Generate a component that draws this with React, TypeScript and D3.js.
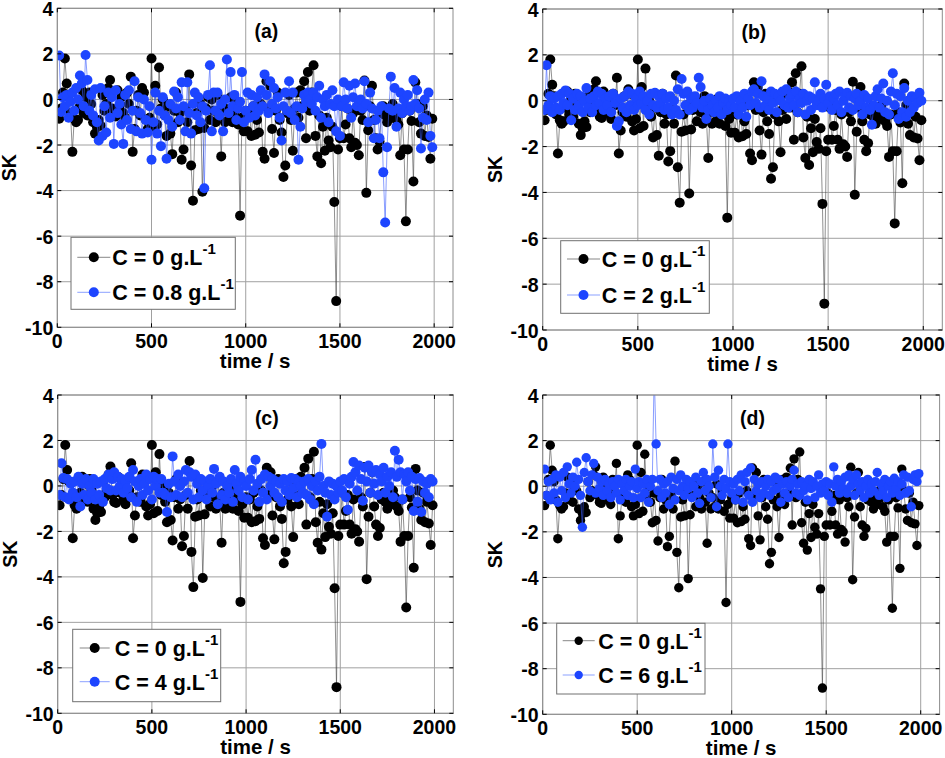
import React from "react";
import * as d3 from "d3";

// sample times (s)
const times: number[] = d3.range(10, 2000, 10);

const xTicks = [0, 500, 1000, 1500, 2000];
const yTicks = [-10, -8, -6, -4, -2, 0, 2, 4];

// C = 0 g/L (reference series, shown in every panel)
const sk0 = [
  -0.85, -0.4, 0.3, 1.8, 0.7, 0.2, -0.6, -2.3, -0.85, -1.0,
  -0.9, -0.3, 0.4, -0.6, 0.1, -0.7, 0.3, -0.2, -1.0, -1.5,
  -1.2, -0.9, -1.15, 0.2, -0.5, -0.2, 0.5, 0.85, -0.4, -0.7,
  -0.75, 0.4, -0.3, 0.1, -0.6, -0.8, 0.3, -0.2, 1.0, -2.3,
  -1.3, -0.5, 0.2, -0.7, 0.5, 0.3, -0.9, -1.3, -0.8, 1.8,
  -1.2, 0.6, -1.1, 1.4, -0.4, 0.0, -0.7, -1.6, -0.3, -1.5,
  -2.4, -0.5, 0.3, -1.0, -0.6, -2.65, -2.2, -0.4, -1.0, 1.1,
  -2.9, -4.45, -1.35, -0.6, -1.3, -0.2, -4.05, -1.25, -0.4, 0.1,
  -0.9, 0.0, -0.5, -1.0, 0.2, -0.7, -2.5, -0.3, -1.0, -0.5,
  -0.9, 0.1, -1.0, -0.6, -0.2, -1.1, -5.1, -0.8, -1.4, -0.5,
  -1.4, -0.6, -1.6, -0.3, -1.55, -0.9, -1.45, -0.2, -2.3, -2.6,
  0.8, -0.4, 0.6, -1.3, -2.35, -0.5, 0.3, -0.9, -1.45, -3.4,
  -2.9, -0.6, 0.2, -0.9, -2.25, -0.4, 0.3, -0.8, 0.4, -0.3,
  0.8, -1.7, 1.2, -0.5, 0.3, 1.5, -1.6, -2.5, -0.7, -2.8,
  -1.2, -2.25, -0.8, -1.8, -2.1, -1.2, -4.5, -8.85, -2.2, -1.7,
  -0.3, -1.7, -1.1, -0.4, -1.7, -2.1, -0.6, -1.9, -2.0, -2.45,
  -0.5, -0.9, 0.83, -4.1, -1.35, -0.3, 0.6, -0.9, -1.7, -2.2,
  -1.85, -0.6, -0.3, -0.7, -1.0, -0.4, -0.8, -0.2, -0.5, -0.9,
  -1.1, -2.45, -0.6, -2.2, -5.35, -2.2, -0.5, -0.95, -3.6, 0.75,
  -0.2, -1.0, -1.5, -0.3, -1.6, -0.7, -1.65, -2.6, -0.85,
];

// C = 0.8 g/L
const sk08 = [
  1.93, -0.55, 0.1, -0.3, 0.2, -0.8, -0.1, 0.3, -0.5, 0.5,
  0.0, 1.05, 0.7, -0.3, 1.95, 0.85, -0.5, 0.2, -0.7, 0.45,
  -1.0, -1.8, 0.5, -1.6, -0.3, -1.45, 0.3, -0.8, 0.1, -1.95,
  0.4, -0.6, -0.2, -1.1, -1.95, 0.2, -0.9, 0.4, -1.3, -0.5,
  0.8, -1.4, 0.1, -0.6, -1.5, 0.0, -0.9, -1.45, -0.3, -2.65,
  -1.0, 0.3, -1.5, -0.5, -2.05, 0.1, -0.7, -2.6, -0.9, -0.2,
  -1.2, 0.35, -0.4, 0.1, -0.9, 0.75, -0.3, -1.4, 0.75, -0.6,
  -1.5, -0.2, 0.3, -0.7, 0.1, -1.0, -0.3, -3.9, -0.5, 0.2,
  1.5, -1.4, 0.3, -0.5, 0.3, -0.7, -0.2, -1.4, 0.0, 1.75,
  -0.6, 1.2, -0.3, 0.2, -0.9, -0.4, -0.1, 1.2, -1.0, -0.5,
  0.3, -0.8, 0.2, -0.3, -0.7, 0.1, -0.5, 0.4, -0.3, 1.1,
  0.2, -0.6, 0.8, -0.2, 0.5, -0.4, 0.1, -0.8, -1.8, -0.3,
  0.3, -0.5, 0.8, -0.6, 0.3, -0.9, -0.3, -2.65, -1.2, -0.4,
  0.2, -0.1, 0.3, 0.0, -0.2, 0.3, -0.5, 0.1, 0.6, -0.8,
  0.0, -0.3, 0.2, -1.0, -0.2, 0.4, -0.3, -1.4, 0.0, -1.6,
  -0.3, 0.75, 0.0, -0.4, 0.6, -0.8, 0.1, 0.7, -0.3, -0.1,
  0.0, -0.4, 0.8, -0.2, -1.0, 0.3, -0.4, -1.7, -0.9, -0.5,
  -1.7, -0.3, -3.2, -5.4, -2.1, -0.4, 1.0, -0.5, 0.5, -1.2,
  -0.4, 0.3, -0.6, 0.0, -0.3, 0.2, -0.5, -0.3, 0.85, -0.2,
  0.4, -0.4, -2.15, -0.8, 0.0, -0.9, 0.3, -1.6, -2.1,
];

// C = 2 g/L
const sk2 = [
  -0.4, 1.55, -0.2, 0.2, -0.5, 0.1, -0.3, 0.2, -0.4, 0.3,
  -0.1, 0.45, -0.2, 0.3, -0.85, 0.1, -0.4, 0.3, -0.2, 0.2,
  -0.5, 0.0, 0.55, -0.3, 0.1, -0.5, 0.2, -0.2, 0.4, -0.1,
  0.3, -0.4, 0.1, -0.2, 0.2, -0.5, 0.3, -0.1, -1.1, -0.9,
  0.1, -0.3, 0.2, -0.5, 0.4, -0.2, 0.3, -0.4, 0.1, -0.2,
  0.4, -0.1, 0.2, -0.4, 0.0, -0.6, 0.3, -0.2, 0.35, -0.3,
  0.2, -0.1, 0.3, -0.4, 0.1, -0.3, 0.2, -0.6, 0.0, -0.4,
  0.5, -0.6, 0.95, 0.3, -0.2, 0.4, -0.4, 0.1, -0.3, 0.2,
  -0.1, 1.0, 0.6, -0.3, 0.0, -0.8, -0.4, 0.1, -0.2, -0.5,
  0.0, -0.3, 0.2, -0.6, -0.1, 0.1, -0.4, 0.0, -0.2, 0.1,
  -0.3, 0.2, -0.6, 0.0, -0.3, 0.3, -0.7, 0.1, -0.2, 0.4,
  0.5, -0.1, 0.3, -0.3, 0.85, 0.2, -0.2, 0.1, -0.4, 0.4,
  -0.1, 0.3, -0.5, 0.2, 0.0, 0.4, -0.2, 0.5, -0.3, 0.1,
  0.3, -0.2, 0.4, -0.5, 0.1, -0.1, 0.3, -0.6, 0.0, 0.2,
  -0.4, 0.1, 0.8, -0.2, 0.0, 0.3, -0.3, 0.1, 0.7, -0.1,
  0.2, -0.4, 0.1, 0.3, -0.2, 0.4, -0.5, 0.0, 0.2, 0.35,
  -0.3, 0.2, -0.4, 0.1, 0.3, -0.2, 0.0, -0.6, 0.25, -0.3,
  0.1, -0.4, -1.05, -0.2, 0.2, 0.5, -0.3, 0.1, 0.75, -0.5,
  0.0, -0.6, 0.4, 1.2, -0.2, 0.3, -0.8, 0.2, -0.5, 0.55,
  -0.7, 0.0, -0.5, 0.2, -0.3, 0.1, -0.1, 0.35, 0.0,
];

// C = 4 g/L
const sk4 = [
  -0.4, 1.0, 0.35, -0.5, 0.3, -0.6, 0.1, -0.3, 0.2, -0.5,
  0.4, -0.9, 0.1, -0.4, 0.3, -0.6, 0.0, -0.3, 0.3, -0.6,
  0.1, -0.4, 0.2, -0.7, 0.3, -0.1, 0.5, -0.2, 0.3, 0.6,
  -0.2, 0.4, 0.0, 0.3, -0.3, 0.2, -0.1, 0.4, -0.5, 0.7,
  0.2, -0.7, 0.0, 0.3, -0.4, 0.1, 0.5, -0.2, 0.3, -0.6,
  0.4, 0.0, 0.3, -0.3, 0.3, -0.3, -0.4, -1.15, 0.1, -0.5,
  1.3, 0.2, -0.4, 0.5, 0.0, -0.5, 0.2, 0.7, -0.3, 0.6,
  0.4, -0.6, 0.5, 0.1, -0.5, 0.3, -0.2, 0.2, -0.6, 0.0,
  0.3, -0.3, 0.75, 0.1, -0.8, 0.4, -0.4, 0.2, -0.6, 0.0,
  -0.3, 0.3, -0.7, 0.7, 0.1, -0.2, 0.4, -0.5, 0.2, 0.0,
  -0.6, 0.3, 0.7, -0.2, 1.15, 0.1, -0.7, 0.3, -0.3, 0.5,
  -0.6, 0.4, 0.0, 0.3, -0.3, 0.2, -0.5, 0.1, -0.7, 0.3,
  -0.2, 0.2, -0.4, 0.35, -0.1, 0.3, -0.5, 0.2, 0.0, -0.3,
  0.2, -0.4, 0.3, -0.6, 0.0, -0.8, 0.2, -0.2, 0.4, 1.85,
  0.0, -0.3, -1.35, 0.2, -0.4, 0.1, -0.6, 0.0, -0.3, 0.2,
  -0.2, 0.3, -0.5, -1.05, 0.1, 0.4, 1.05, 0.6, -0.2, 0.9,
  0.3, -0.65, 0.8, 0.2, 0.9, -0.3, 0.6, 0.1, 0.7, -0.4,
  0.5, 0.2, 0.8, -0.3, 0.4, 0.0, 0.6, -0.5, 1.55, 0.4,
  1.15, 0.6, -0.6, 0.5, 0.2, 0.6, -0.2, 0.4, -1.1, 0.3,
  -0.7, 0.35, -1.15, 0.2, -0.3, 0.1, -0.5, 0.3, 0.2,
];

// C = 6 g/L
const sk6 = [
  0.75, -0.4, 0.2, -0.6, 0.3, -0.3, 0.5, -0.7, 0.4, -0.2,
  0.6, -0.5, 0.85, 0.1, -0.3, 0.4, 0.0, 1.05, 0.3, -0.4,
  -1.8, 0.6, 1.25, 0.2, -0.2, 0.5, 1.0, -0.3, 0.4, -0.1,
  0.2, -0.4, 0.3, -0.2, 0.1, -0.5, 0.2, 0.0, -0.3, 0.3,
  -0.6, 0.1, -0.2, 0.3, -0.4, 0.0, 0.2, -0.5, 0.75, -0.1,
  0.2, -0.5, 0.1, -0.3, 0.3, -0.7, 0.0, 0.3, 5.0, 1.85,
  -0.2, 0.3, -0.5, 0.1, -0.3, 0.2, -0.8, 0.4, -0.1, -0.6,
  0.3, -0.2, 0.5, 0.0, -0.4, 0.3, -0.1, 0.2, -0.5, 0.0,
  0.4, -0.3, -0.75, 0.2, 0.6, -0.2, 0.3, 0.0, -0.5, 1.85,
  0.4, -0.9, 0.7, 0.0, -0.4, 0.3, -0.1, 1.85, 0.2, -0.3,
  0.1, -0.6, 0.3, -0.2, 0.5, -0.7, 0.2, 0.6, -0.4, 0.8,
  -0.7, 0.3, -0.2, 0.1, -0.5, 0.2, -0.3, 0.0, 0.3, -0.4,
  0.2, -0.2, 0.4, -0.1, 0.3, -0.7, 0.1, -0.3, 0.2, -0.5,
  0.0, 0.3, 0.7, -0.3, 0.1, -0.4, 0.2, -0.2, 0.0, -0.6,
  0.3, -0.1, 0.2, -0.5, 0.0, 0.5, -0.3, 0.1, -0.2, 0.2,
  -0.4, 0.1, -0.7, 0.85, 0.0, 0.3, -0.3, 0.2, -0.1, 0.4,
  -0.3, 0.5, 0.0, 0.3, -0.4, 0.5, 0.1, -0.2, 0.2, -0.5,
  0.0, 0.3, -0.3, 0.1, -0.2, 0.2, 0.6, -0.4, 0.1, -0.2,
  0.3, -0.5, 0.0, 0.2, -0.3, 0.35, -0.1, 0.2, -0.4, 0.1,
  0.5, -0.3, 0.4, -0.2, -0.9, 0.3, 0.5, 0.2, 0.55,
];

const panelLabels = ["(a)", "(b)", "(c)", "(d)"];
const concLabels = ["0.8", "2", "4", "6"];
const blueSeries = [sk08, sk2, sk4, sk6];

const BLUE = "#1d45ff";
const FONT = "'Liberation Sans', Arial, Helvetica, sans-serif";

type Box = { left: number; right: number; top: number; bottom: number };
type Leg = { x: number; y: number; w: number; h: number; e1: number; e2: number; l0: number; l1: number; tx: number; r: number };

const boxes: Box[] = [
  { left: 57.3, right: 453, top: 8.3, bottom: 327.3 },
  { left: 542.7, right: 942.3, top: 9, bottom: 330 },
  { left: 57.7, right: 453.3, top: 395, bottom: 713.3 },
  { left: 542.7, right: 939.6, top: 395, bottom: 714.3 },
];

const legends: Leg[] = [
  { x: 13.7, y: 229, w: 164.3, h: 72, e1: 249, e2: 284, l0: 20, l1: 53, tx: 55, r: 5 },
  { x: 18, y: 231.7, w: 148.6, h: 72.6, e1: 250, e2: 286, l0: 24.3, l1: 57.3, tx: 59, r: 5 },
  { x: 15, y: 234.3, w: 148, h: 72.4, e1: 253, e2: 286.7, l0: 22, l1: 52, tx: 57, r: 5 },
  { x: 14, y: 228.3, w: 148.3, h: 70.7, e1: 245.7, e2: 280, l0: 20, l1: 52, tx: 55.6, r: 4.2 },
];

function Panel({ idx }: { idx: number }) {
  const b = boxes[idx];
  const lg = legends[idx];
  const blue = blueSeries[idx];
  const x = d3.scaleLinear().domain([0, 2100]).range([b.left, b.right]);
  const y = d3.scaleLinear().domain([-10, 4]).range([b.bottom, b.top]);
  const line = d3
    .line<number>()
    .x((_, i) => x(times[i]))
    .y((d) => y(d));
  const clipId = `clip-${idx}`;
  const r = idx === 3 ? 4.7 : 5;
  const tk = 4;
  const legendText = (c: string, ty: number) => (
    <text x={b.left + lg.tx} y={b.top + ty + 8} fontSize={21.5} fontWeight="bold" fontFamily={FONT} fill="#000">
      {`C = ${c} g.L`}
      <tspan dy={-11} fontSize={15}>-1</tspan>
    </text>
  );
  return (
    <g>
      <defs>
        <clipPath id={clipId}>
          <rect x={b.left} y={b.top} width={b.right - b.left} height={b.bottom - b.top} />
        </clipPath>
      </defs>
      <rect x={b.left} y={b.top} width={b.right - b.left} height={b.bottom - b.top} fill="#fff" />
      {xTicks.map((t) => (
        <line key={`gx${t}`} x1={x(t)} x2={x(t)} y1={b.top} y2={b.bottom} stroke="#a0a0a0" strokeWidth={1} />
      ))}
      {yTicks.map((t) => (
        <line key={`gy${t}`} x1={b.left} x2={b.right} y1={y(t)} y2={y(t)} stroke="#a0a0a0" strokeWidth={1} />
      ))}
      <g clipPath={`url(#${clipId})`}>
        <path d={line(sk0) || ""} fill="none" stroke="#444" strokeWidth={0.6} />
        {sk0.map((v, i) => (
          <circle key={`k${i}`} cx={x(times[i])} cy={y(v)} r={r} fill="#000" />
        ))}
        <path d={line(blue) || ""} fill="none" stroke="#3a5cff" strokeWidth={0.6} />
        {blue.map((v, i) => (
          <circle key={`b${i}`} cx={x(times[i])} cy={y(v)} r={r} fill={BLUE} />
        ))}
      </g>
      <rect x={b.left} y={b.top} width={b.right - b.left} height={b.bottom - b.top} fill="none" stroke="#8c8c8c" strokeWidth={1} />
      {xTicks.map((t) => (
        <g key={`tx${t}`}>
          <line x1={x(t)} x2={x(t)} y1={b.bottom} y2={b.bottom - tk} stroke="#000" />
          <line x1={x(t)} x2={x(t)} y1={b.top} y2={b.top + tk} stroke="#000" />
          <text x={x(t)} y={b.bottom + 21} textAnchor="middle" fontSize={19.5} fontWeight="bold" fontFamily={FONT}>
            {t}
          </text>
        </g>
      ))}
      {yTicks.map((t) => (
        <g key={`ty${t}`}>
          <line x1={b.left} x2={b.left + tk} y1={y(t)} y2={y(t)} stroke="#000" />
          <line x1={b.right} x2={b.right - tk} y1={y(t)} y2={y(t)} stroke="#000" />
          <text x={b.left - 4} y={y(t) + 7.5} textAnchor="end" fontSize={19.5} fontWeight="bold" fontFamily={FONT}>
            {t}
          </text>
        </g>
      ))}
      <text x={x(1110)} y={y(3) + 7} textAnchor="middle" fontSize={19.5} fontWeight="bold" fontFamily={FONT}>
        {panelLabels[idx]}
      </text>
      <text x={(b.left + b.right) / 2} y={b.bottom + 41} textAnchor="middle" fontSize={20.5} fontWeight="bold" fontFamily={FONT}>
        time / s
      </text>
      <text
        transform={`translate(${b.left - 41},${(b.top + b.bottom) / 2}) rotate(-90)`}
        textAnchor="middle"
        fontSize={19.5}
        fontWeight="bold"
        fontFamily={FONT}
      >
        SK
      </text>
      <rect x={b.left + lg.x} y={b.top + lg.y} width={lg.w} height={lg.h} fill="#fff" stroke="#707070" strokeWidth={1} />
      <line x1={b.left + lg.l0} x2={b.left + lg.l1} y1={b.top + lg.e1} y2={b.top + lg.e1} stroke="#555" strokeWidth={0.7} />
      <circle cx={b.left + (lg.l0 + lg.l1) / 2} cy={b.top + lg.e1} r={lg.r} fill="#000" />
      {legendText("0", lg.e1)}
      <line x1={b.left + lg.l0} x2={b.left + lg.l1} y1={b.top + lg.e2} y2={b.top + lg.e2} stroke="#5a78ff" strokeWidth={0.7} />
      <circle cx={b.left + (lg.l0 + lg.l1) / 2} cy={b.top + lg.e2} r={lg.r} fill={BLUE} />
      {legendText(concLabels[idx], lg.e2)}
    </g>
  );
}

export default function App() {
  return (
    <svg width={945} height={758} style={{ position: "absolute", left: 0, top: 0, background: "#fff" }}>
      <rect width={945} height={758} fill="#fff" />
      {[0, 1, 2, 3].map((i) => (
        <Panel key={i} idx={i} />
      ))}
    </svg>
  );
}
